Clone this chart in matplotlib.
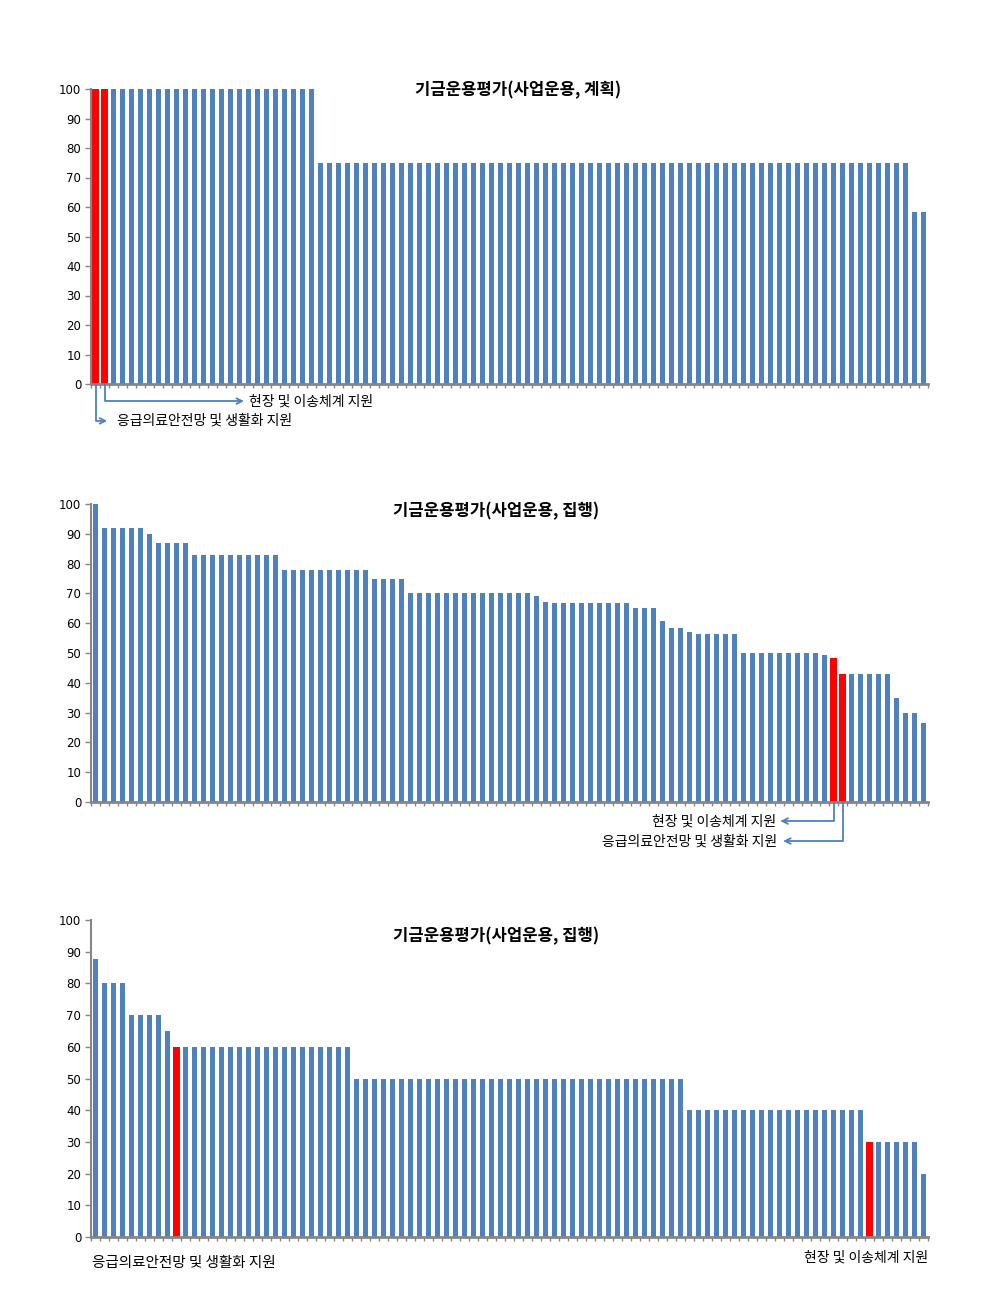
import matplotlib
matplotlib.use("Agg")
import matplotlib.pyplot as plt
import numpy as np

plt.rcParams['font.family'] = ['DejaVu Sans', 'Noto Sans CJK KR']

# values, 93 programmes per chart, sorted high to low
plan_vals = [100] * 25 + [75] * 66 + [58.3] * 2
exec_vals = ([100] + [92] * 5 + [90] + [87] * 4 + [83] * 10 + [78] * 10 + [75] * 4
             + [70] * 14 + [69] + [67.2] + [66.7] * 9 + [65] * 3 + [60.7] + [58.3] * 2
             + [57.1] + [56.5] * 5 + [50] * 9 + [49.3] + [48.2] + [43.1] * 6 + [35]
             + [29.8] * 2 + [26.6])
exec2_vals = ([87.7] + [80] * 3 + [70] * 4 + [65] + [60] * 20 + [50] * 37 + [40] * 20
              + [30] * 6 + [20])

titles = ["기금운용평가(사업운용, 계획)", "기금운용평가(사업운용, 집행)", "기금운용평가(사업운용, 집행)"]
red_idx = [[0, 1], [82, 83], [9, 86]]
label_a = "응급의료안전망 및 생활화 지원"
label_b = "현장 및 이송체계 지원"

BLUE = "#4F81BD"
RED = "#FF0000"
GRAY = "#868686"
KR = ['Noto Sans CJK KR', 'DejaVu Sans']

W, H = 997, 1313
fig = plt.figure(figsize=(W / 100, H / 100), dpi=100)

# (top px of 100, bottom px of 0)
boxes = [(89, 384), (504, 802), (920, 1237)]
title_pos = [(0.510, 0.997), (0.484, 0.977), (0.484, 0.950)]
left_px, right_px = 91, 928


def make_axes(top, bottom):
    return fig.add_axes([left_px / W, 1 - bottom / H,
                         (right_px - left_px) / W, (bottom - top) / H])


def draw_bars(ax, vals, reds):
    n = len(vals)
    x = np.arange(n)
    colors = [RED if i in reds else BLUE for i in range(n)]
    widths = [0.7 if i in reds else 0.5 for i in range(n)]
    ax.bar(x, vals, width=widths, color=colors, zorder=2)
    ax.set_xlim(-0.5, n - 0.5)
    ax.set_ylim(0, 100)
    ax.set_yticks(range(0, 101, 10))
    ax.set_xticks(np.arange(-0.5, n, 1.0))
    ax.set_xticklabels([])
    ax.tick_params(axis='x', length=3, width=1, color=GRAY, direction='out')
    ax.tick_params(axis='y', length=4, width=1, color=GRAY, labelsize=8.5, pad=3)
    for s in ['top', 'right']:
        ax.spines[s].set_visible(False)
    ax.spines['bottom'].set_color(GRAY)
    ax.spines['bottom'].set_linewidth(2)
    ax.spines['left'].set_color(GRAY)
    ax.spines['left'].set_linewidth(1.5)


def elbow(ax, x0, y1, x1, text, tx, ha):
    # line from bar foot down to y1 (axes frac), then across to x1 with arrowhead
    tr = ax.get_xaxis_transform()
    ax.annotate('', xy=(x1, y1), xycoords=tr, xytext=(x0, 0), textcoords=tr,
                arrowprops=dict(arrowstyle='->', color=BLUE, lw=1.3,
                                shrinkA=0, shrinkB=0,
                                connectionstyle='angle,angleA=90,angleB=0,rad=0'),
                annotation_clip=False)
    ax.text(tx, y1, text, transform=tr, ha=ha, va='center',
            fontsize=10, family=KR, clip_on=False)


all_vals = [plan_vals, exec_vals, exec2_vals]
axes = []
for k in range(3):
    ax = make_axes(*boxes[k])
    draw_bars(ax, all_vals[k], red_idx[k])
    ax.text(title_pos[k][0], title_pos[k][1], titles[k], transform=ax.transAxes,
            ha='center', va='center', fontsize=12, fontweight='bold', family=KR)
    axes.append(ax)

# chart 1 call-outs
elbow(axes[0], 1, -0.058, 16.5, label_b, 17.1, 'left')
elbow(axes[0], 0, -0.125, 1.3, label_a, 2.4, 'left')

# chart 2 call-outs
elbow(axes[1], 82, -0.064, 76.1, label_b, 75.6, 'right')
elbow(axes[1], 83, -0.131, 76.4, label_a, 75.7, 'right')

# chart 3 plain labels
ax3 = axes[2]
tr3 = ax3.get_xaxis_transform()
ax3.text(-0.4, -0.082, label_a, transform=tr3, ha='left', va='center',
         fontsize=10.5, family=KR)
ax3.text(92.5, -0.066, label_b, transform=tr3, ha='right', va='center',
         fontsize=10, family=KR)

fig.savefig("out.png", dpi=100)
